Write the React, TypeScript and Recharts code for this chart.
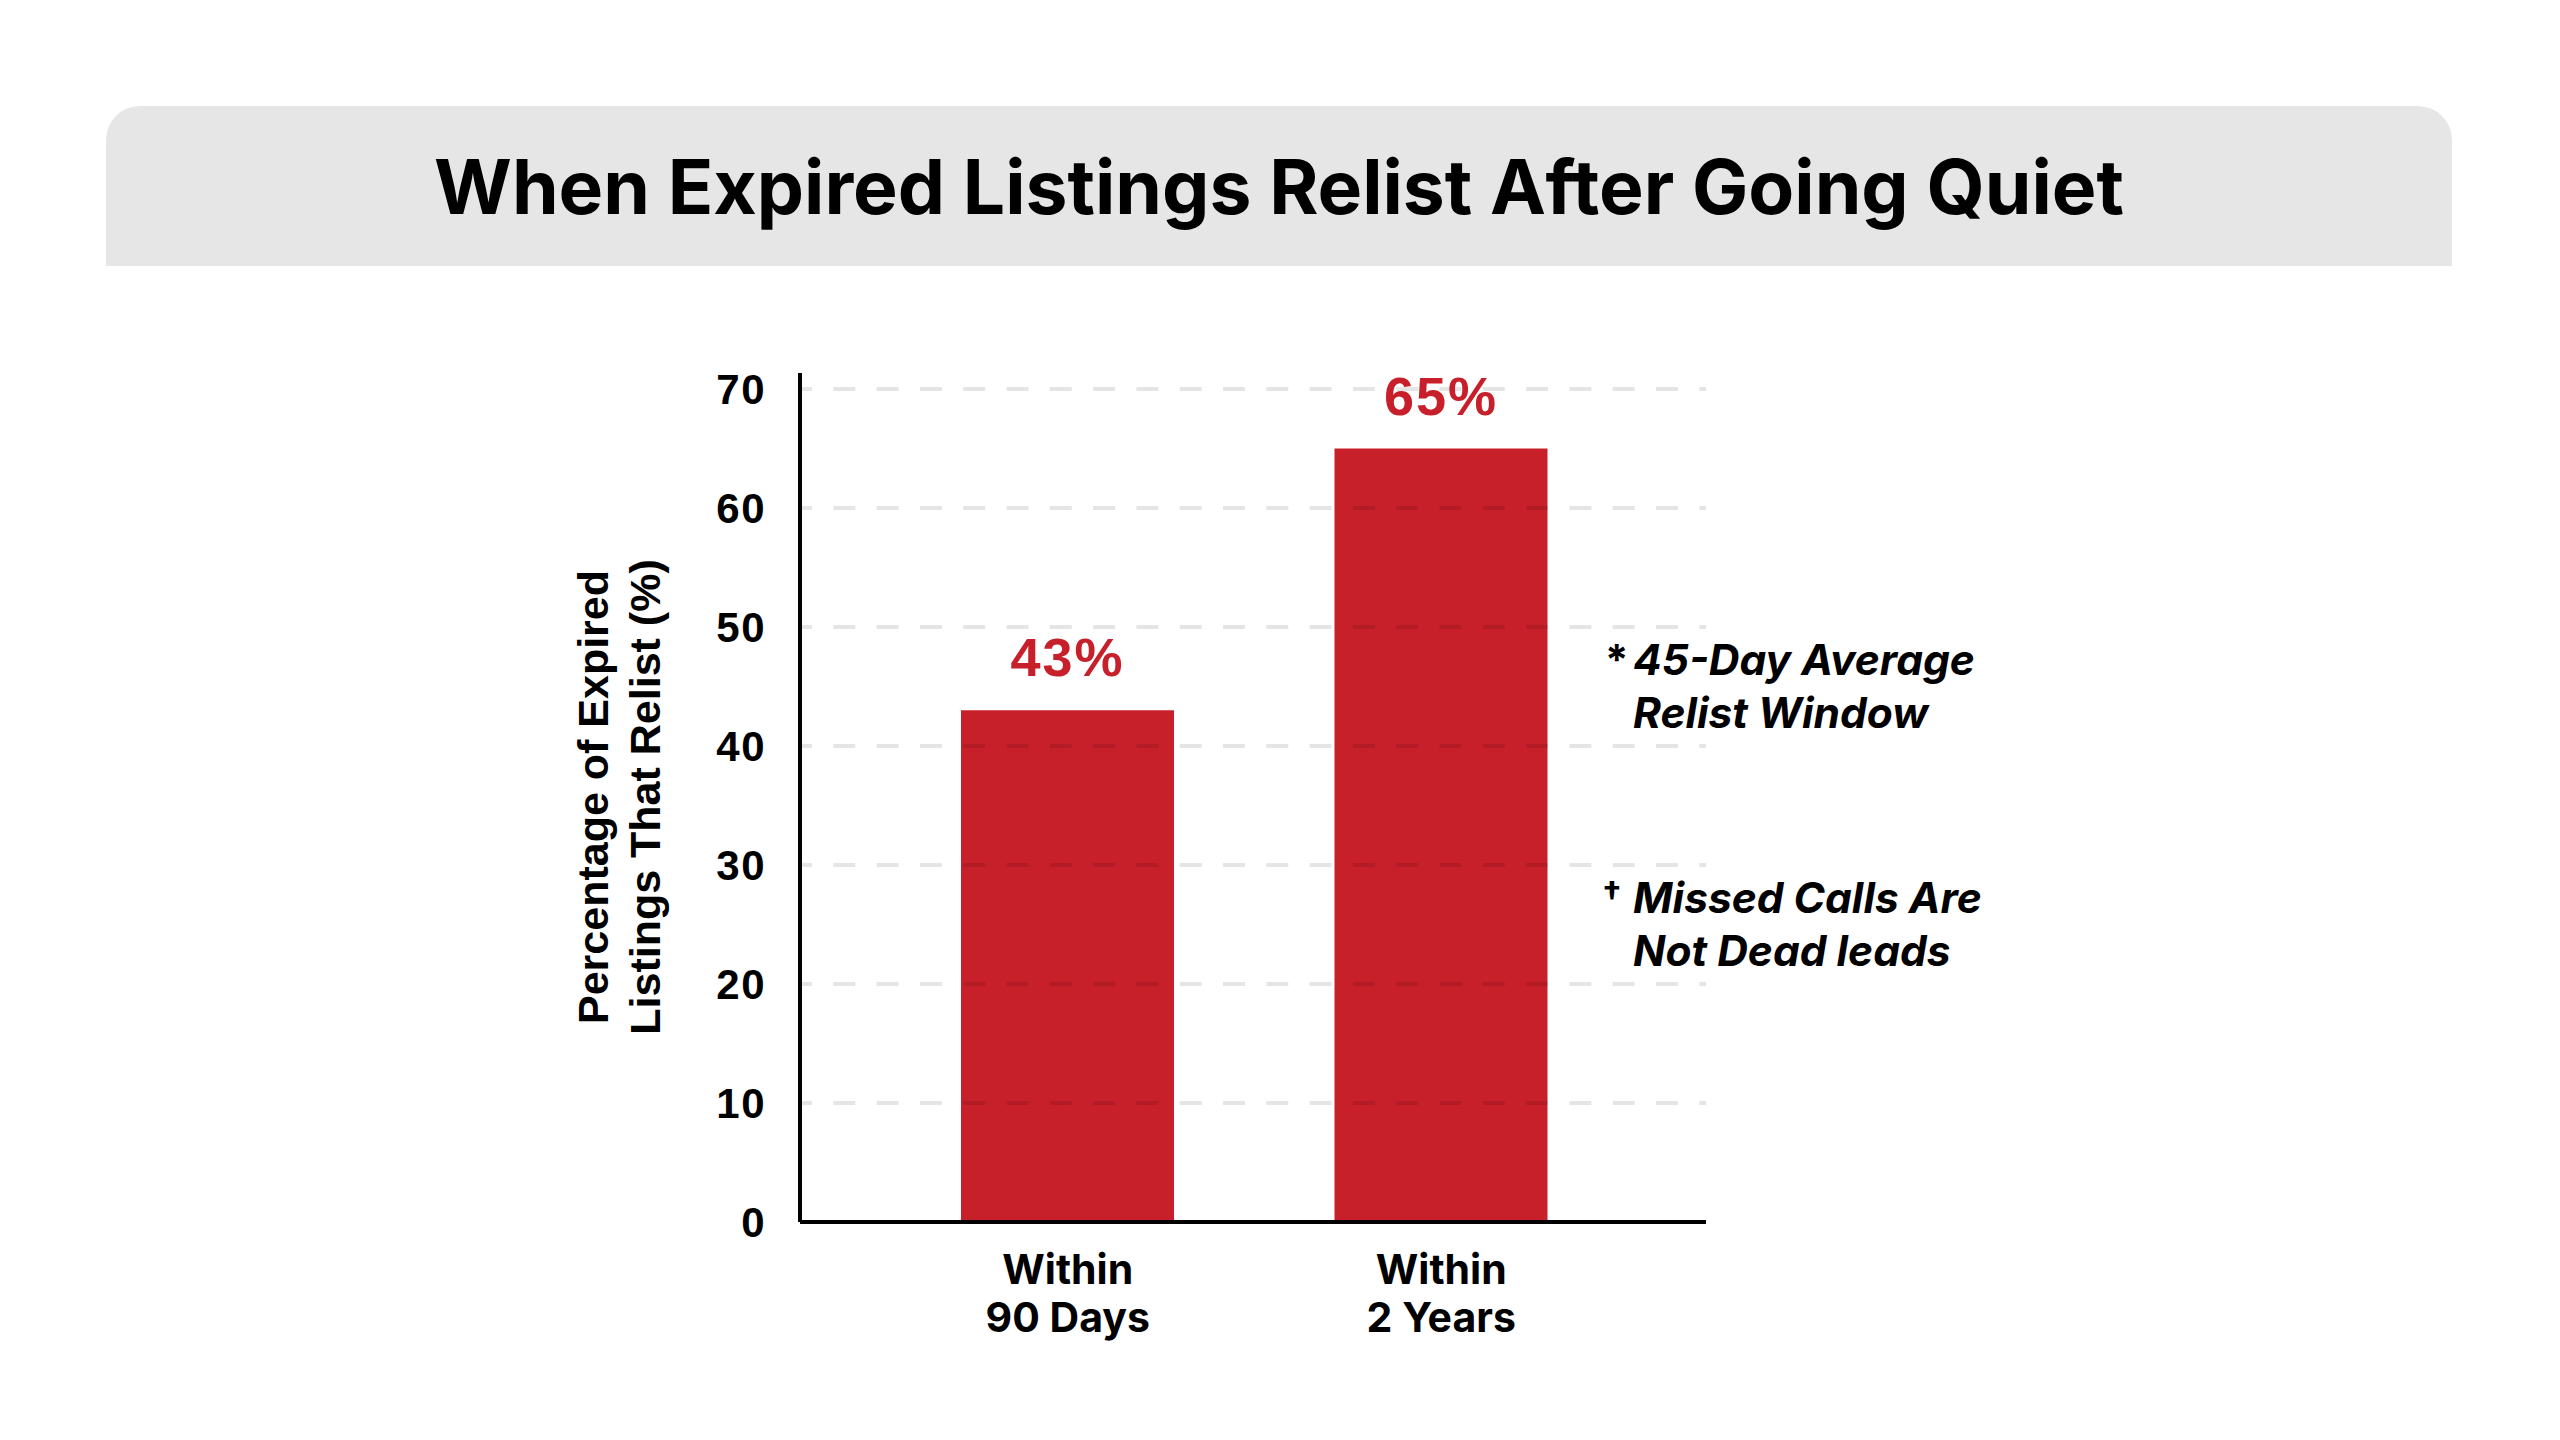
import React from 'react';
import { BarChart, Bar, XAxis, YAxis, ReferenceLine, LabelList } from 'recharts';

const title = 'When Expired Listings Relist After Going Quiet';
const categories = ['Within\n90 Days', 'Within\n2 Years'];
const relistShare = [43, 65];
const yTicks = [0, 10, 20, 30, 40, 50, 60, 70];
const yLabelLines = ['Percentage of Expired', 'Listings That Relist (%)'];
const noteMarks = ['*', '†'];
const noteLines = [
  ['45-Day Average', 'Relist Window'],
  ['Missed Calls Are', 'Not Dead leads'],
];

const RED = '#c8202a';

const chartData = categories.map((name, i) => ({ name, value: relistShare[i] }));

// two-line category labels under the bars
const CategoryTick = ({ x, y, payload }: any) => {
  const lines = String(payload.value).split('\n');
  return (
    <g transform={`translate(${x},${y})`}>
      {lines.map((line, i) => (
        <text
          key={i}
          x={0}
          y={62 + i * 48}
          textAnchor="middle"
          fontFamily="Inter"
          fontWeight={700}
          fontSize={41}
          fill="#000"
        >
          {line}
        </text>
      ))}
    </g>
  );
};

export default function App() {
  return (
    <div style={{ position: 'absolute', left: 0, top: 0, width: 2560, height: 1440, background: '#fff' }}>
      {/* title band */}
      <div
        style={{
          position: 'absolute',
          left: 106,
          top: 106,
          width: 2346,
          height: 160,
          background: '#e6e6e6',
          borderRadius: '34px 34px 0 0',
          display: 'flex',
          alignItems: 'center',
          justifyContent: 'center',
          fontFamily: 'Inter',
          fontWeight: 700,
          fontSize: 75,
          color: '#000',
        }}
      >
        {title}
      </div>

      <div style={{ position: 'absolute', left: 0, top: 0 }}>
        <BarChart
          width={2560}
          height={1440}
          data={chartData}
          margin={{ top: 373, right: 854, bottom: 98, left: 600 }}
        >
          <XAxis
            dataKey="name"
            type="category"
            height={120}
            padding={{ left: 81, right: 78 }}
            axisLine={{ stroke: '#000', strokeWidth: 4 }}
            tickLine={false}
            tickSize={0}
            tickMargin={0}
            interval={0}
            tick={<CategoryTick />}
          />
          <YAxis
            type="number"
            width={200}
            domain={[0, 71.35]}
            ticks={yTicks}
            interval={0}
            axisLine={{ stroke: '#000', strokeWidth: 4 }}
            tickLine={false}
            tickSize={0}
            tickMargin={34}
            tick={{ fontFamily: 'Liberation Sans', fontWeight: 700, fontSize: 42, fill: '#000', letterSpacing: 1.5 }}
          />
          <Bar dataKey="value" fill={RED} barSize={213} isAnimationActive={false}>
            <LabelList
              dataKey="value"
              position="top"
              offset={34}
              formatter={(v: any) => `${v}%`}
              style={{ fill: RED, fontFamily: 'Liberation Sans', fontWeight: 700, fontSize: 54, letterSpacing: 2 }}
            />
          </Bar>
          {/* dashed grid, translucent so it shows faintly over the bars */}
          {yTicks.slice(1).map((t) => (
            <ReferenceLine
              key={t}
              y={t}
              stroke="rgba(0,0,0,0.1)"
              strokeWidth={4}
              strokeDasharray="22 21.3"
              strokeDashoffset={10}
            />
          ))}
        </BarChart>
      </div>

      {/* y axis title and side notes */}
      <svg
        width={2560}
        height={1440}
        style={{ position: 'absolute', left: 0, top: 0, pointerEvents: 'none' }}
      >
        <g transform="translate(634,797) rotate(-90)">
          {yLabelLines.map((line, i) => (
            <text
              key={i}
              x={0}
              y={-26 + i * 52}
              textAnchor="middle"
              fontFamily="Liberation Sans"
              fontWeight={700}
              fontSize={43}
              fill="#000"
            >
              {line}
            </text>
          ))}
        </g>
        {noteLines.map((lines, n) => (
          <g key={n} transform={`translate(0,${n === 0 ? 675 : 913})`}>
            <text
              x={n === 0 ? 1605 : 1602}
              y={n === 0 ? 0 : -7}
              fontFamily="Inter"
              fontWeight={700}
              fontSize={n === 0 ? 42 : 34}
              fill="#000"
            >
              {noteMarks[n]}
            </text>
            {lines.map((line, i) => (
              <text
                key={i}
                x={1633}
                y={i * 53}
                fontFamily="Inter"
                fontWeight={700}
                fontStyle="italic"
                fontSize={42.5}
                fill="#000"
              >
                {line}
              </text>
            ))}
          </g>
        ))}
      </svg>
    </div>
  );
}
